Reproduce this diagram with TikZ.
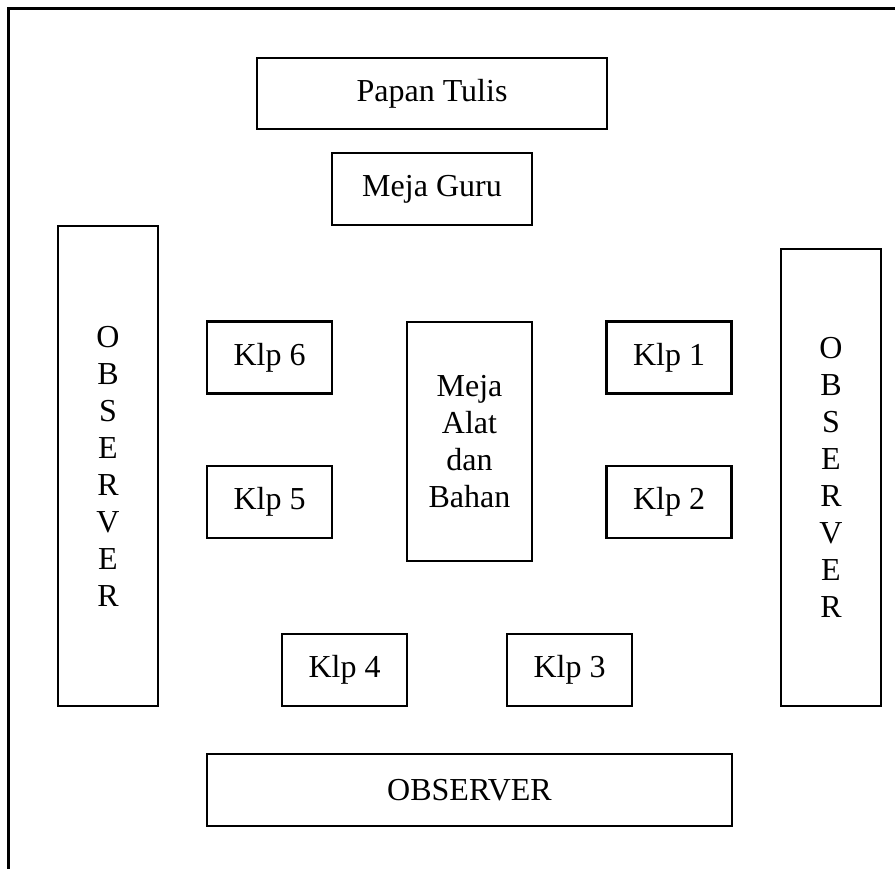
\documentclass[tikz,border=0pt]{standalone}
\usepackage{fontspec}
\setmainfont{Liberation Serif}
\begin{document}
\begin{tikzpicture}[x=1pt, y=-1pt,
    every node/.style={font=\fontsize{32}{37}\selectfont, align=center, inner sep=0pt},
    box/.style={draw, line width=2.4pt},
    klp/.style={box, minimum width=125pt, minimum height=72pt}]
        \useasboundingbox (0,0) rectangle (895,869);
        \draw[line width=3pt] (895,9) -- (8,9) -- (8,869);

        \node[box, minimum width=350pt, minimum height=71pt] (papan) at (432,93.5) {Papan Tulis};
        \node[box, minimum width=200pt, minimum height=72pt] (guru) at (432,189) {Meja Guru};

        \node[box, minimum width=100pt, minimum height=480pt] (obsL) at (108,466) {O\\B\\S\\E\\R\\V\\E\\R};
        \node[box, minimum width=100pt, minimum height=457pt] (obsR) at (831,477.5) {O\\B\\S\\E\\R\\V\\E\\R};

        \node[klp] (k6) at (269.5,357.5) {Klp 6};
        \node[klp] (k5) at (269.5,502) {Klp 5};
        \node[box, minimum width=125pt, minimum height=239pt] (alat) at (469.5,441.5) {Meja\\Alat\\dan\\Bahan};
        \node[klp] (k1) at (669,357.5) {Klp 1};
        \node[klp] (k2) at (669,502) {Klp 2};
        \node[klp] (k4) at (344.5,670) {Klp 4};
        \node[klp] (k3) at (569.5,670) {Klp 3};

        \node[box, minimum width=525pt, minimum height=72pt] (obsB) at (469.5,790) {OBSERVER};
      \end{tikzpicture}
\end{document}
